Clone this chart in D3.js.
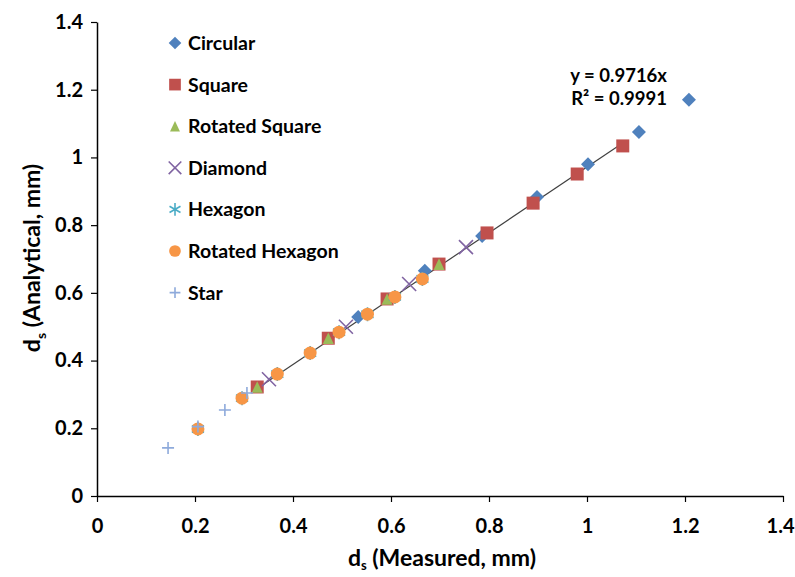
<!DOCTYPE html>
<html>
<head>
<meta charset="utf-8">
<script src="https://cdn.jsdelivr.net/npm/d3@7"></script>
<style>
  body { margin: 0; background: #fff; }
  svg text { font-family: Lato, "Open Sans", sans-serif; font-weight: bold; fill: #000; }
</style>
</head>
<body>
<div id="chart"></div>
<script>
// series data: [measured, analytical]
const circular = [[0.533, 0.529], [0.669, 0.665], [0.786, 0.768], [0.898, 0.883], [1.002, 0.98], [1.106, 1.075], [1.208, 1.17]];
const square = [[0.327, 0.322], [0.472, 0.466], [0.592, 0.582], [0.698, 0.685], [0.796, 0.777], [0.89, 0.865], [0.98, 0.951], [1.073, 1.034]];
const rotatedSquare = [[0.327, 0.322], [0.472, 0.466], [0.592, 0.582], [0.698, 0.685]];
const diamond = [[0.351, 0.345], [0.508, 0.5], [0.637, 0.626], [0.753, 0.735]];
const rotatedHexagon = [[0.206, 0.198], [0.296, 0.289], [0.368, 0.36], [0.435, 0.422], [0.494, 0.484], [0.552, 0.537], [0.608, 0.588], [0.664, 0.641]];
const hexagon = rotatedHexagon.slice();
const star = [[0.145, 0.142], [0.206, 0.205], [0.261, 0.254], [0.306, 0.304]];
const xTicks = [0, 0.2, 0.4, 0.6, 0.8, 1, 1.2, 1.4];
const yTicks = [0, 0.2, 0.4, 0.6, 0.8, 1, 1.2, 1.4];
const slope = 0.9716;
const r2 = "0.9991";

const series = [
  { name: "Circular", data: circular, color: "#4f81bd", shape: "diamond" },
  { name: "Square", data: square, color: "#c0504d", shape: "square" },
  { name: "Rotated Square", data: rotatedSquare, color: "#9bbb59", shape: "triangle" },
  { name: "Diamond", data: diamond, color: "#8064a2", shape: "x" },
  { name: "Hexagon", data: hexagon, color: "#4bacc6", shape: "asterisk" },
  { name: "Rotated Hexagon", data: rotatedHexagon, color: "#f79646", shape: "circle" },
  { name: "Star", data: star, color: "#8eaadb", shape: "plus" }
];

const width = 795, height = 577;
const svg = d3.select("#chart").append("svg")
    .attr("width", width)
    .attr("height", height);

const x = d3.scaleLinear().domain([0, 1.4]).range([97, 783]);
const y = d3.scaleLinear().domain([0, 1.4]).range([496, 22]);
const fmt = d => String(+d.toFixed(1));

// axes
const xAxis = svg.append("g")
    .attr("transform", `translate(0,${y(0)})`)
    .call(d3.axisBottom(x).tickValues(xTicks).tickFormat(fmt).tickSize(6).tickSizeOuter(0));
const yAxis = svg.append("g")
    .attr("transform", `translate(${x(0)},0)`)
    .call(d3.axisLeft(y).tickValues(yTicks).tickFormat(fmt).tickSize(6).tickSizeOuter(0));

[xAxis, yAxis].forEach(a => {
  a.select(".domain").attr("stroke", "#000").attr("stroke-width", 1.5);
  a.selectAll(".tick line").attr("stroke", "#000").attr("stroke-width", 1.2);
  a.selectAll("text").style("font-size", "20px");
});
xAxis.selectAll("text").attr("dy", "1.4em");
xAxis.selectAll(".tick:last-of-type text").attr("x", -3);
yAxis.selectAll("text").attr("x", -14);

// marker paths, r = half width
function markerPath(shape, r) {
  const p = d3.path();
  if (shape === "diamond") {
    p.moveTo(0, -r); p.lineTo(r, 0); p.lineTo(0, r); p.lineTo(-r, 0); p.closePath();
  } else if (shape === "square") {
    p.rect(-r, -r, 2 * r, 2 * r);
  } else if (shape === "triangle") {
    p.moveTo(0, -r); p.lineTo(r * 0.95, r); p.lineTo(-r * 0.95, r); p.closePath();
  } else if (shape === "x") {
    p.moveTo(-r, -r); p.lineTo(r, r); p.moveTo(-r, r); p.lineTo(r, -r);
  } else if (shape === "plus") {
    p.moveTo(-r, 0); p.lineTo(r, 0); p.moveTo(0, -r); p.lineTo(0, r);
  } else if (shape === "asterisk") {
    p.moveTo(0, -r); p.lineTo(0, r);
    p.moveTo(-r * 0.87, -r * 0.5); p.lineTo(r * 0.87, r * 0.5);
    p.moveTo(-r * 0.87, r * 0.5); p.lineTo(r * 0.87, -r * 0.5);
  } else {
    p.arc(0, 0, r, 0, 2 * Math.PI);
  }
  return p.toString();
}
const markerR = { diamond: 7, square: 6.5, triangle: 5.8, x: 7, asterisk: 7, circle: 6.5, plus: 6 };
const stroked = s => s === "x" || s === "asterisk" || s === "plus";

function drawMarker(g, s, k) {
  const p = g.append("path").attr("d", markerPath(s.shape, markerR[s.shape] * k));
  if (stroked(s.shape)) {
    p.attr("fill", "none").attr("stroke", s.color).attr("stroke-width", 1.6);
  } else {
    p.attr("fill", s.color);
  }
  return p;
}

// trendline for Square series
const sqX = d3.extent(square, d => d[0]);
svg.append("line")
    .attr("x1", x(sqX[0])).attr("y1", y(slope * sqX[0]))
    .attr("x2", x(sqX[1])).attr("y2", y(slope * sqX[1]))
    .attr("stroke", "#404040")
    .attr("stroke-width", 1.2);

// points, later series on top
series.forEach(s => {
  const g = svg.append("g");
  s.data.forEach(d => {
    const m = g.append("g").attr("transform", `translate(${x(d[0])},${y(d[1])})`);
    drawMarker(m, s, 1);
  });
});

// trendline label
const eq = svg.append("text")
    .attr("x", 667).attr("y", 82)
    .attr("text-anchor", "end")
    .style("font-size", "18.5px");
eq.append("tspan").attr("x", 667).attr("dy", 0).text(`y = ${slope}x`);
eq.append("tspan").attr("x", 667).attr("dy", 23).text(`R² = ${r2}`);

// legend
const legend = svg.append("g");
series.forEach((s, i) => {
  const row = legend.append("g").attr("transform", `translate(175,${43 + i * 41.6})`);
  drawMarker(row.append("g"), s, 0.9);
  row.append("text")
      .attr("x", 13).attr("y", 0).attr("dy", "0.36em")
      .style("font-size", "19.5px")
      .text(s.name);
});

// axis titles
const yTitle = svg.append("text")
    .attr("transform", "translate(40,258) rotate(-90)")
    .attr("text-anchor", "middle")
    .style("font-size", "23px");
yTitle.append("tspan").text("d");
yTitle.append("tspan").attr("dy", 6).style("font-size", "14px").text("s");
yTitle.append("tspan").attr("dy", -6).text(" (Analytical, mm)");

const xTitle = svg.append("text")
    .attr("x", 442).attr("y", 566)
    .attr("text-anchor", "middle")
    .style("font-size", "23px");
xTitle.append("tspan").text("d");
xTitle.append("tspan").attr("dy", 4).style("font-size", "13px").text("s");
xTitle.append("tspan").attr("dy", -4).text(" (Measured, mm)");
</script>
</body>
</html>
